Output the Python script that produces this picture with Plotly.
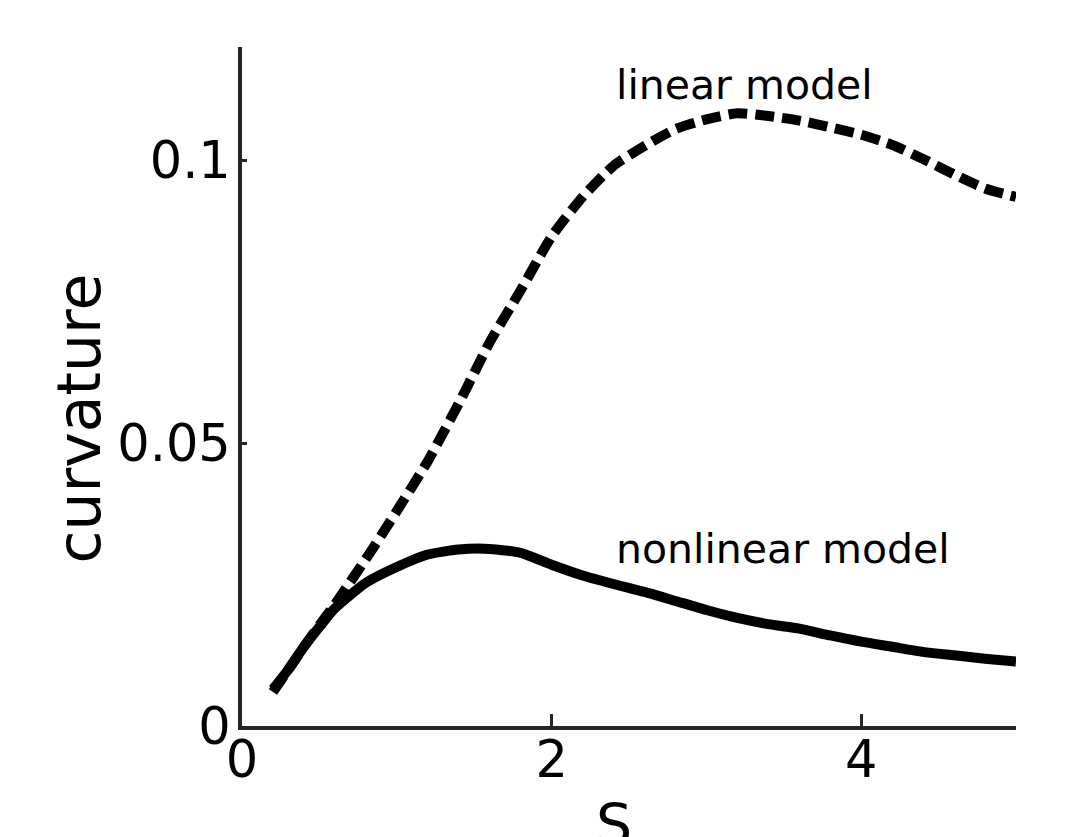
import plotly.graph_objects as go

# S values and curvature of the two models
s_nonlinear = [0.2, 0.3, 0.4, 0.5, 0.6, 0.8, 1.0, 1.2, 1.4, 1.6, 1.8, 2.0, 2.2, 2.4,
               2.6, 2.8, 3.0, 3.2, 3.4, 3.6, 3.8, 4.0, 4.2, 4.4, 4.6, 4.8, 5.0]
curv_nonlinear = [0.0065, 0.0100, 0.0140, 0.0175, 0.0208, 0.0253, 0.0281, 0.0303, 0.0312,
                  0.0313, 0.0306, 0.0285, 0.0266, 0.0251, 0.0237, 0.0221, 0.0205, 0.0191,
                  0.0180, 0.0172, 0.0160, 0.0149, 0.0140, 0.0131, 0.0125, 0.0119, 0.0114]

s_linear = [0.2, 0.3, 0.4, 0.5, 0.6, 0.7, 0.8, 0.9, 1.0, 1.2, 1.4, 1.5, 1.6, 1.8, 2.0,
            2.2, 2.4, 2.6, 2.8, 3.0, 3.2, 3.4, 3.6, 3.8, 4.0, 4.2, 4.4, 4.6, 4.8, 5.0]
curv_linear = [0.0060, 0.0100, 0.0140, 0.0178, 0.0215, 0.0255, 0.0295, 0.0337, 0.0380,
               0.0468, 0.0570, 0.0624, 0.0678, 0.0770, 0.0865, 0.0935, 0.0990, 0.1025,
               0.1055, 0.1072, 0.1083, 0.1078, 0.1070, 0.1058, 0.1045, 0.1027, 0.1002,
               0.0975, 0.0950, 0.0935]

x_ticks = [0, 2, 4]
y_ticks = [0, 0.05, 0.1]
y_tick_text = ["0", "0.05", "0.1"]

FONT = "DejaVu Sans"
AXIS_COLOR = "#262626"

fig = go.Figure()
fig.add_trace(go.Scatter(
    x=s_linear, y=curv_linear, mode="lines",
    line=dict(color="black", width=10, dash="19px,8px", shape="spline", smoothing=0.6),
    showlegend=False, hoverinfo="skip"))
fig.add_trace(go.Scatter(
    x=s_nonlinear, y=curv_nonlinear, mode="lines",
    line=dict(color="black", width=10, shape="spline", smoothing=0.6),
    showlegend=False, hoverinfo="skip"))

fig.update_layout(
    width=1070, height=837,
    margin=dict(l=242, r=54, t=47, b=111, autoexpand=False),
    paper_bgcolor="white", plot_bgcolor="white",
    font=dict(family=FONT, color="black"),
    xaxis=dict(range=[0, 5], tickvals=x_ticks, ticks="inside", ticklen=12, tickwidth=2.5,
               tickcolor=AXIS_COLOR, showline=True, linecolor=AXIS_COLOR, linewidth=4,
               showgrid=False, zeroline=False, tickfont=dict(size=51, family=FONT),
               ticklabelstandoff=-14),
    yaxis=dict(range=[0, 0.12], tickvals=y_ticks, ticktext=y_tick_text, ticks="inside",
               ticklen=5, tickwidth=2.5, tickcolor=AXIS_COLOR, showline=True,
               linecolor=AXIS_COLOR, linewidth=4, showgrid=False, zeroline=False,
               tickfont=dict(size=51, family=FONT), ticklabelstandoff=-3),
    annotations=[
        dict(text="linear model", x=2.4, y=0.1132, xref="x", yref="y",
             xanchor="left", yanchor="middle", showarrow=False,
             font=dict(size=41, family=FONT, color="black")),
        dict(text="nonlinear model", x=2.4, y=0.0312, xref="x", yref="y",
             xanchor="left", yanchor="middle", showarrow=False,
             font=dict(size=41, family=FONT, color="black")),
        dict(text="curvature", x=-0.21, y=(726 - 418) / 679, xref="paper", yref="paper",
             xanchor="center", yanchor="middle", textangle=-90, showarrow=False,
             font=dict(size=60, family=FONT, color="black")),
        dict(text="S", x=(614 - 242) / 774, y=-(790 - 726) / 679, xref="paper", yref="paper",
             xanchor="center", yanchor="top", showarrow=False,
             font=dict(size=57, family=FONT, color="black")),
    ],
)

fig.write_html("out.html")
